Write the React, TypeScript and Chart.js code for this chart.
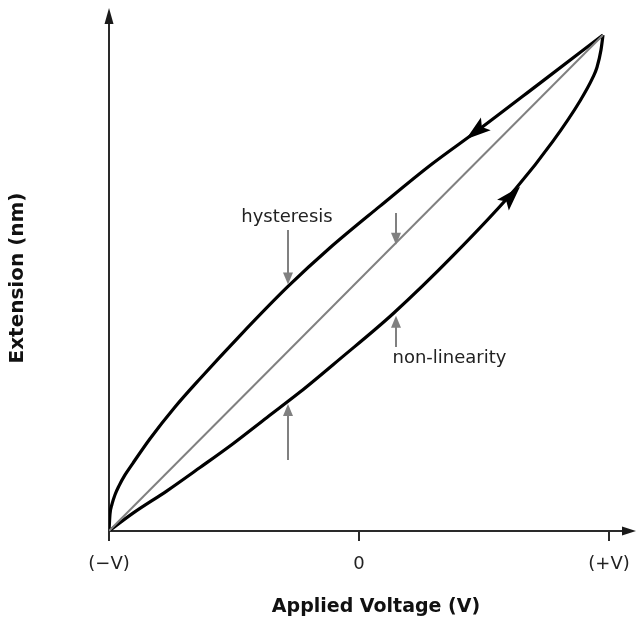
import { useEffect, useRef } from "react";
import { Chart, registerables } from "chart.js";

Chart.register(...registerables);

// ---- data ----
const tickValues = [-1, 0, 1];
const tickLabels = ["(\u2212V)", "0", "(+V)"];

const upperX = [-1, -0.996, -0.988, -0.976, -0.96, -0.936, -0.904, -0.836, -0.736, -0.636, -0.476, -0.284, -0.116, 0.084, 0.284, 0.484, 0.724, 0.976];
const upperY = [0, 0.034, 0.054, 0.073, 0.091, 0.113, 0.137, 0.186, 0.25, 0.307, 0.394, 0.493, 0.571, 0.655, 0.737, 0.811, 0.903, 1];

const lowerX = [-1, -0.904, -0.768, -0.636, -0.504, -0.368, -0.236, -0.076, 0.136, 0.376, 0.628, 0.776, 0.884, 0.936, 0.952, 0.968, 0.976];
const lowerY = [0, 0.036, 0.081, 0.128, 0.176, 0.229, 0.28, 0.347, 0.438, 0.555, 0.691, 0.786, 0.867, 0.915, 0.935, 0.97, 1];

const linearX = [-1, 0.976];
const linearY = [0, 1];

const xTitle = "Applied Voltage (V)";
const yTitle = "Extension (nm)";

const noteTexts = ["hysteresis", "non-linearity"];
const noteX = [-0.288, 0.362];
const noteY = [0.633, 0.349];

const grayArrowX = [-0.284, -0.284, 0.148, 0.148];
const grayArrowFromY = [0.607, 0.143, 0.641, 0.371];
const grayArrowToY = [0.497, 0.256, 0.577, 0.434];

const curveArrowTipX = [0.428, 0.644];
const curveArrowTipY = [0.79, 0.694];
const curveArrowBaseX = [0.508, 0.572];
const curveArrowBaseY = [0.821, 0.655];

const FONT = "'DejaVu Sans', Verdana, sans-serif";

function head(ctx: CanvasRenderingContext2D, tx: number, ty: number, bx: number, by: number, len: number, half: number, notch: number) {
  const ang = Math.atan2(ty - by, tx - bx);
  ctx.save();
  ctx.translate(tx, ty);
  ctx.rotate(ang);
  ctx.beginPath();
  ctx.moveTo(0, 0);
  ctx.lineTo(-len, half);
  ctx.lineTo(-len * notch, 0);
  ctx.lineTo(-len, -half);
  ctx.closePath();
  ctx.fill();
  ctx.restore();
}

const decorations = {
  id: "decorations",
  beforeDatasetsDraw(chart: any) {
    const { ctx, scales } = chart;
    const x = scales.x;
    const y = scales.y;
    const x0 = x.getPixelForValue(-1);
    const y0 = y.getPixelForValue(0);
    ctx.save();
    ctx.strokeStyle = "#2a2a2a";
    ctx.fillStyle = "#1a1a1a";
    ctx.lineWidth = 2;
    // x axis
    const xEnd = chart.width - 1;
    ctx.beginPath();
    ctx.moveTo(x0, y0);
    ctx.lineTo(xEnd - 10, y0);
    ctx.stroke();
    head(ctx, xEnd, y0, xEnd - 20, y0, 14, 4.5, 1);
    // y axis
    const yEnd = 8;
    ctx.beginPath();
    ctx.moveTo(x0, y0);
    ctx.lineTo(x0, yEnd + 10);
    ctx.stroke();
    head(ctx, x0, yEnd, x0, yEnd + 20, 16, 4.5, 1);
    ctx.restore();
  },
  afterDatasetsDraw(chart: any) {
    const { ctx, scales, chartArea } = chart;
    const x = scales.x;
    const y = scales.y;
    ctx.save();
    // arrowheads on the curves
    ctx.fillStyle = "#000";
    for (let i = 0; i < curveArrowTipX.length; i++) {
      head(
        ctx,
        x.getPixelForValue(curveArrowTipX[i]),
        y.getPixelForValue(curveArrowTipY[i]),
        x.getPixelForValue(curveArrowBaseX[i]),
        y.getPixelForValue(curveArrowBaseY[i]),
        25,
        8,
        0.8
      );
    }
    // gray annotation arrows
    ctx.strokeStyle = "#808080";
    ctx.fillStyle = "#808080";
    ctx.lineWidth = 2;
    for (let i = 0; i < grayArrowX.length; i++) {
      const px = x.getPixelForValue(grayArrowX[i]);
      const fy = y.getPixelForValue(grayArrowFromY[i]);
      const ty = y.getPixelForValue(grayArrowToY[i]);
      const dir = ty > fy ? 1 : -1;
      ctx.beginPath();
      ctx.moveTo(px, fy);
      ctx.lineTo(px, ty - dir * 10);
      ctx.stroke();
      head(ctx, px, ty, px, fy, 12, 5, 1);
    }
    // annotation texts
    ctx.fillStyle = "#222";
    ctx.font = `18px ${FONT}`;
    ctx.textAlign = "center";
    ctx.textBaseline = "middle";
    for (let i = 0; i < noteTexts.length; i++) {
      ctx.fillText(noteTexts[i], x.getPixelForValue(noteX[i]), y.getPixelForValue(noteY[i]));
    }
    // axis titles
    ctx.fillStyle = "#111";
    ctx.font = `bold 19px ${FONT}`;
    ctx.fillText(xTitle, (chartArea.left + chartArea.right) / 2 + 17, 607);
    ctx.save();
    ctx.font = `bold 20px ${FONT}`;
    ctx.translate(18, 278);
    ctx.rotate(-Math.PI / 2);
    ctx.fillText(yTitle, 0, 0);
    ctx.restore();
    ctx.restore();
  },
};

export default function App() {
  const ref = useRef<HTMLCanvasElement>(null);
  useEffect(() => {
    document.body.style.margin = "0";
    const canvas = ref.current;
    if (!canvas) return;
    const toPts = (xs: number[], ys: number[]) => xs.map((v, i) => ({ x: v, y: ys[i] }));
    const chart = new Chart(canvas, {
      type: "scatter",
      data: {
        datasets: [
          {
            label: "linear",
            data: toPts(linearX, linearY),
            showLine: true,
            borderColor: "#808080",
            borderWidth: 2,
            pointRadius: 0,
          },
          {
            label: "upper",
            data: toPts(upperX, upperY),
            showLine: true,
            borderColor: "#000",
            borderWidth: 3.2,
            pointRadius: 0,
            cubicInterpolationMode: "monotone",
          },
          {
            label: "lower",
            data: toPts(lowerX, lowerY),
            showLine: true,
            borderColor: "#000",
            borderWidth: 3.2,
            pointRadius: 0,
            cubicInterpolationMode: "monotone",
          },
        ],
      },
      options: {
        animation: false,
        responsive: false,
        devicePixelRatio: 1,
        layout: { padding: { left: 109, right: 28, top: 25, bottom: 0 } },
        plugins: { legend: { display: false }, tooltip: { enabled: false } },
        scales: {
          x: {
            type: "linear",
            min: -1,
            max: 1,
            afterFit: (s: any) => {
              s.height = 91;
              s.paddingLeft = 0;
              s.paddingRight = 0;
            },
            afterBuildTicks: (s: any) => {
              s.ticks = tickValues.map((v) => ({ value: v }));
            },
            border: { display: false },
            grid: { drawOnChartArea: false, drawTicks: true, tickLength: 10, color: "#2a2a2a", lineWidth: 2 },
            ticks: {
              padding: 13,
              color: "#222",
              font: { family: FONT, size: 18 },
              maxRotation: 0,
              autoSkip: false,
              callback: (v: any) => {
                const i = tickValues.indexOf(Number(v));
                return i >= 0 ? tickLabels[i] : "";
              },
            },
          },
          y: {
            type: "linear",
            display: false,
            min: 0,
            max: (531 - 25) / 496,
          },
        },
      },
      plugins: [decorations],
    });
    return () => chart.destroy();
  }, []);
  return (
    <div style={{ position: "absolute", left: 0, top: 0, width: 637, height: 622 }}>
      <canvas ref={ref} width={637} height={622} />
    </div>
  );
}
